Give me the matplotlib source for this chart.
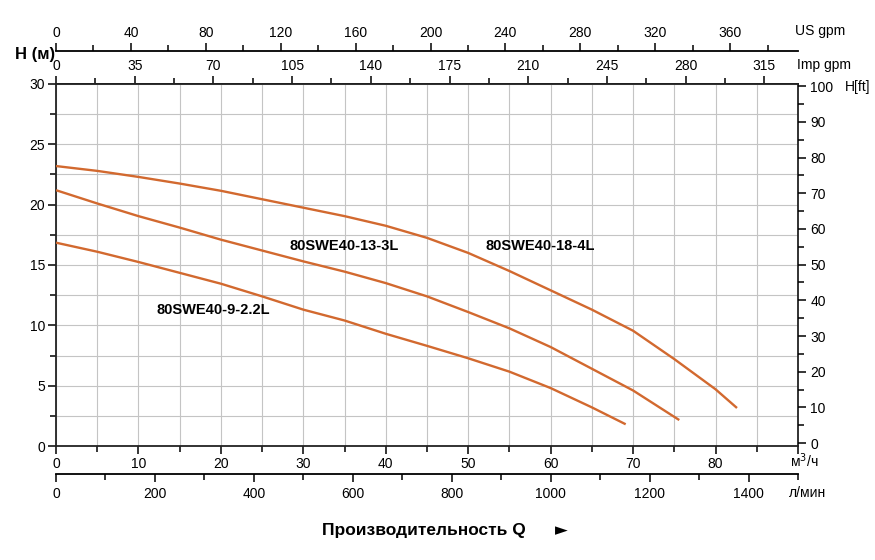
import numpy as np
import matplotlib.pyplot as plt
from matplotlib.ticker import MultipleLocator, FuncFormatter

plt.rcParams['font.family'] = ['Liberation Sans', 'DejaVu Sans']

# flow in m3/h, head in m
q_18_4 = [0, 5, 10, 15, 20, 25, 30, 35, 40, 45, 50, 55, 60, 65, 70, 75, 80, 82.6]
h_18_4 = [23.2, 22.8, 22.3, 21.75, 21.15, 20.45, 19.75, 19.05, 18.25, 17.25, 16.0,
          14.5, 12.9, 11.3, 9.55, 7.2, 4.7, 3.15]
q_13_3 = [0, 5, 10, 15, 20, 25, 30, 35, 40, 45, 50, 55, 60, 65, 70, 75.6]
h_13_3 = [21.2, 20.1, 19.05, 18.1, 17.1, 16.2, 15.3, 14.45, 13.5, 12.4, 11.1,
          9.75, 8.2, 6.4, 4.6, 2.15]
q_9_22 = [0, 5, 10, 15, 20, 25, 30, 35, 40, 45, 50, 55, 60, 65, 69.1]
h_9_22 = [16.85, 16.1, 15.25, 14.35, 13.45, 12.4, 11.3, 10.4, 9.3, 8.3, 7.27,
          6.16, 4.8, 3.2, 1.8]

labels = ['80SWE40-18-4L', '80SWE40-13-3L', '80SWE40-9-2.2L']
label_pos = [(58.7, 16.6), (35, 16.6), (19.1, 11.3)]

us_gpm_ticks = np.arange(0, 361, 40)
imp_gpm_ticks = np.arange(0, 316, 35)
lmin_ticks = np.arange(0, 1401, 200)
ft_ticks = np.arange(0, 101, 10)

US_GPM = 4.4029
IMP_GPM = 3.6662
LMIN = 16.6667

curve_color = '#d2692f'
fs = 10

fig = plt.figure(figsize=(8.75, 5.6), dpi=100)
ax = fig.add_axes([56 / 875, 114 / 560, 742 / 875, 362 / 560])

for q, h in [(q_18_4, h_18_4), (q_13_3, h_13_3), (q_9_22, h_9_22)]:
    ax.plot(q, h, color=curve_color, lw=1.7, solid_capstyle='butt', zorder=3)

for txt, (x, y) in zip(labels, label_pos):
    ax.text(x, y, txt, fontsize=10.5, fontweight='bold', ha='center', va='center')

ax.set_xlim(0, 90)
ax.set_ylim(0, 30)
ax.xaxis.set_major_locator(MultipleLocator(10))
ax.xaxis.set_minor_locator(MultipleLocator(5))
ax.xaxis.set_major_formatter(FuncFormatter(lambda v, p: '' if v > 85 else f'{v:.0f}'))
ax.yaxis.set_major_locator(MultipleLocator(5))
ax.yaxis.set_minor_locator(MultipleLocator(2.5))
ax.grid(True, which='both', color='#c4c4c4', lw=0.8)
ax.set_axisbelow(True)
ax.tick_params(which='major', length=6, width=1.1, labelsize=fs, pad=2)
ax.tick_params(which='minor', length=4, width=1.1)
for s in ax.spines.values():
    s.set_linewidth(1.3)
    s.set_color('#222222')

# top: Imp gpm on the plot frame
top_imp = ax.secondary_xaxis('top', functions=(lambda x: x * IMP_GPM, lambda x: x / IMP_GPM))
top_imp.set_xticks(imp_gpm_ticks)
top_imp.xaxis.set_minor_locator(MultipleLocator(17.5))
top_imp.tick_params(which='major', length=6, width=1.1, labelsize=fs, pad=2)
top_imp.tick_params(which='minor', length=4, width=1.1)
top_imp.spines['top'].set_linewidth(1.3)

# top: US gpm on a separate line
top_us = ax.secondary_xaxis(1 + 33 / 362, functions=(lambda x: x * US_GPM, lambda x: x / US_GPM))
top_us.set_xticks(us_gpm_ticks)
top_us.xaxis.set_minor_locator(MultipleLocator(20))
top_us.tick_params(which='major', length=6, width=1.1, labelsize=fs, pad=2)
top_us.tick_params(which='minor', length=4, width=1.1)
top_us.spines['top'].set_linewidth(1.3)

# bottom: l/min
bot_l = ax.secondary_xaxis(-28 / 362, functions=(lambda x: x * LMIN, lambda x: x / LMIN))
bot_l.set_xticks(lmin_ticks)
bot_l.xaxis.set_minor_locator(MultipleLocator(100))
bot_l.tick_params(which='major', length=6, width=1.1, labelsize=fs, pad=3)
bot_l.tick_params(which='minor', length=4, width=1.1)
bot_l.spines['bottom'].set_linewidth(1.3)

# right: H in ft
axr = ax.twinx()
axr.set_ylim(-0.8, 100.6)
axr.set_yticks(ft_ticks)
axr.yaxis.set_minor_locator(MultipleLocator(5))
axr.tick_params(which='major', length=6, width=1.1, labelsize=fs, pad=3)
axr.tick_params(which='minor', length=4, width=1.1)
for s in axr.spines.values():
    s.set_visible(False)

# unit labels
fig.text(35 / 875, 1 - 55 / 560, 'H (м)', fontsize=12, fontweight='bold', ha='center', va='center')
fig.text(795 / 875, 1 - 31 / 560, 'US gpm', fontsize=fs, ha='left', va='center')
fig.text(797 / 875, 1 - 65 / 560, 'Imp gpm', fontsize=fs, ha='left', va='center')
fig.text(845 / 875, 1 - 87 / 560, 'H[ft]', fontsize=fs, ha='left', va='center')
fig.text(790 / 875, 1 - 461 / 560, 'м$^3$/ч', fontsize=fs, ha='left', va='center')
fig.text(789 / 875, 1 - 493 / 560, 'л/мин', fontsize=fs, ha='left', va='center')
fig.text(424 / 875, 1 - 530 / 560, 'Производительность Q', fontsize=12.5,
         fontweight='bold', ha='center', va='center')
fig.text(561 / 875, 1 - 530 / 560, '►', fontsize=12, ha='center', va='center',
         family=['DejaVu Sans'])

fig.savefig('out.png', dpi=100)
